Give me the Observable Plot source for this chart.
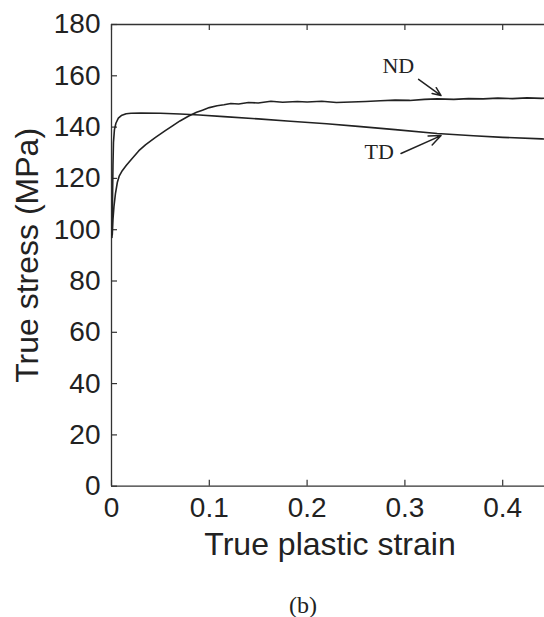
<!DOCTYPE html>
<html><head><meta charset="utf-8">
<script src="https://cdn.jsdelivr.net/npm/d3@7"></script>
<script src="https://cdn.jsdelivr.net/npm/@observablehq/plot@0.6"></script>
<style>
html,body{margin:0;padding:0;background:#fff;overflow:hidden}
#wrap{width:544px;overflow:hidden}
#chart{width:640px}
#chart svg{display:block;max-width:none !important;width:640px;height:588px !important}
#cap{font-family:"Liberation Serif","Times New Roman",serif;font-size:24px;line-height:26px;padding-top:4px;color:#222;padding-left:289px;white-space:nowrap}
</style></head><body>
<div id="wrap"><div id="chart"></div><div id="cap">(b)</div></div>
<script>
// Tick values
const xTicks = [0, 0.1, 0.2, 0.3, 0.4, 0.5];
const xTickLabels = [0, 0.1, 0.2, 0.3, 0.4];   // 0.5 lies beyond the cropped right edge
const yTicks = [0, 20, 40, 60, 80, 100, 120, 140, 160, 180];

// ND curve (true plastic strain, true stress MPa)
const ndStrain = [0.0008,0.0015,0.0025,0.004,0.006,0.008,0.011,0.015,0.02,0.028,0.035,0.045,0.055,0.062,0.07,0.079,0.087,0.093,0.1,0.108,0.115,0.122,0.13,0.14,0.15,0.163,0.175,0.19,0.2,0.215,0.23,0.245,0.26,0.275,0.29,0.305,0.32,0.333,0.35,0.365,0.38,0.395,0.41,0.425,0.44,0.455,0.47,0.485,0.5];
const ndStress = [98,104,109,114,118.5,121,123,125,127.3,130.8,133.2,136,138.6,140.4,142.4,144.3,145.8,146.6,147.6,148.3,148.7,149.2,149.0,149.6,149.4,150.1,149.7,150.0,149.8,150.1,149.6,149.8,150.0,150.3,150.5,150.4,150.8,151.0,150.8,151.1,151.0,151.3,151.1,151.4,151.2,151.4,151.2,151.4,151.3];

// TD curve
const tdStrain = [0.0005,0.001,0.0015,0.002,0.003,0.0045,0.007,0.01,0.015,0.02,0.03,0.05,0.07,0.09,0.115,0.15,0.183,0.22,0.252,0.29,0.333,0.37,0.4,0.44,0.47,0.5];
const tdStress = [97,110,125,134,139,141.5,143.5,144.5,145.2,145.4,145.5,145.4,145.1,144.7,144.1,143.2,142.3,141.3,140.3,139.0,137.5,136.6,136.0,135.4,135.0,134.7];

// Annotations
const annLabels = ["ND", "TD"];
const annTextX = [0.2933, 0.2738];
const annTextY = [163.8, 130.3];
const annFromX = [0.314, 0.296];
const annFromY = [158.6, 129.7];
const annToX = [0.337, 0.337];
const annToY = [152.3, 136.7];

const nd = ndStrain.map((x, i) => ({x, y: ndStress[i]}));
const td = tdStrain.map((x, i) => ({x, y: tdStress[i]}));
const ann = annLabels.map((t, i) => ({t, tx: annTextX[i], ty: annTextY[i], x1: annFromX[i], y1: annFromY[i], x2: annToX[i], y2: annToY[i]}));

const W = 640, H = 588, mL = 111, mR = 40, mT = 24, mB = 588 - 485.7;
const frameW = W - mL - mR, frameH = H - mT - mB, tickLen = 6;
const ink = "#222";
const chart = Plot.plot({
  width: W, height: H,
  marginLeft: mL, marginRight: mR, marginTop: mT, marginBottom: mB,
  style: {fontFamily: "'Liberation Sans', Arial, sans-serif", fontSize: "28px", color: ink, background: "#fff", overflow: "visible"},
  x: {domain: [0, 0.5]},
  y: {domain: [0, 180]},
  marks: [
    Plot.ruleY([0, 180], {stroke: "#333", strokeWidth: 1.3}),
    Plot.ruleX([0, 0.5], {stroke: "#333", strokeWidth: 1.3}),
    // inward ticks (MATLAB style)
    Plot.tickX(xTicks, {x: d => d, insetTop: frameH - tickLen, stroke: "#333", strokeWidth: 1.2}),
    Plot.tickX(xTicks, {x: d => d, insetBottom: frameH - tickLen, stroke: "#333", strokeWidth: 1.2}),
    Plot.tickY(yTicks, {y: d => d, insetRight: frameW - tickLen, stroke: "#333", strokeWidth: 1.2}),
    Plot.axisX({ticks: xTickLabels, anchor: "bottom", tickSize: 0, tickPadding: 11, tickFormat: d => String(d), label: null, fontSize: 28}),
    Plot.axisY({ticks: yTicks, anchor: "left", tickSize: 0, tickPadding: 11, tickFormat: d => String(d), label: null, fontSize: 28}),
    Plot.axisY({ticks: yTicks, anchor: "left", tickSize: 0, tickFormat: () => "", label: "True stress (MPa)", labelAnchor: "center", labelOffset: 96, labelArrow: "none", fontSize: 32}),
    Plot.text(["True plastic strain"], {frameAnchor: "bottom", dx: -26, dy: 69, fontSize: 32, fill: ink}),
    Plot.line(td, {x: "x", y: "y", stroke: ink, strokeWidth: 1.6}),
    Plot.line(nd, {x: "x", y: "y", stroke: ink, strokeWidth: 1.6}),
    Plot.arrow(ann, {x1: "x1", y1: "y1", x2: "x2", y2: "y2", stroke: ink, strokeWidth: 1.5, headLength: 13, headAngle: 45}),
    Plot.text(ann, {x: "tx", y: "ty", text: "t", fontSize: 22, fontFamily: "'Liberation Serif', 'Times New Roman', serif", fill: ink})
  ]
});
document.getElementById("chart").appendChild(chart);
</script>
</body></html>
